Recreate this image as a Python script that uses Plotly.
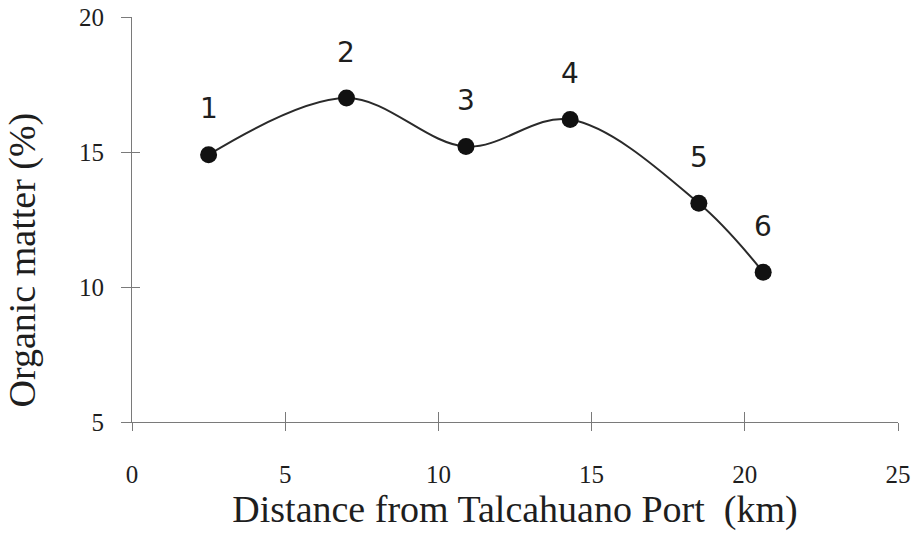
import plotly.graph_objects as go

# Sampling stations along the transect
stations = ["1", "2", "3", "4", "5", "6"]
distance_km = [2.5, 7.0, 10.9, 14.3, 18.5, 20.6]
organic_matter = [14.9, 17.0, 15.2, 16.2, 13.1, 10.55]

x_ticks = [0, 5, 10, 15, 20, 25]
y_ticks = [5, 10, 15, 20]

axis_grey = "#7a7a7a"
ink = "#1e1e1e"
serif = "Liberation Serif, Times New Roman, serif"

fig = go.Figure()

fig.add_trace(go.Scatter(
    x=distance_km,
    y=organic_matter,
    mode="lines+markers",
    line=dict(color="#2a2a2a", width=2, shape="spline", smoothing=1.0),
    marker=dict(color="#111111", size=17),
    showlegend=False,
    hoverinfo="skip",
))

# Station numbers above each point
for name, xv, yv in zip(stations, distance_km, organic_matter):
    fig.add_annotation(
        x=xv, y=yv, text=name, showarrow=False, yshift=46,
        font=dict(family="DejaVu Sans, sans-serif", size=28, color=ink),
    )

# Y-axis title, set a little below the axis midpoint
fig.add_annotation(
    xref="paper", yref="paper", x=-0.143, y=0.40,
    text="Organic matter (%)", textangle=-90, showarrow=False,
    xanchor="center", yanchor="middle",
    font=dict(family=serif, size=38, color=ink),
)

# Invisible trace on the overlay axes so inward ticks get drawn
fig.add_trace(go.Scatter(x=[None], y=[None], xaxis="x2", yaxis="y2",
                         showlegend=False, hoverinfo="skip"))

fig.update_layout(
    template="none",
    width=915, height=533,
    margin=dict(l=132, r=17, t=17, b=111),
    paper_bgcolor="white", plot_bgcolor="white",
    xaxis=dict(
        range=[0, 25], tickvals=x_ticks, showgrid=False, zeroline=False,
        automargin=False,
        showline=True, linecolor=axis_grey, linewidth=1,
        ticks="outside", ticklen=8, tickcolor=axis_grey, tickwidth=1,
        ticklabelstandoff=22,
        tickfont=dict(family=serif, size=25, color=ink),
        title=dict(text="Distance from Talcahuano Port  (km)",
                   font=dict(family=serif, size=38, color=ink), standoff=6),
    ),
    yaxis=dict(
        range=[5, 20], tickvals=y_ticks, showgrid=False, zeroline=False,
        automargin=False,
        showline=True, linecolor=axis_grey, linewidth=1,
        ticks="outside", ticklen=10, tickcolor=axis_grey, tickwidth=1,
        ticklabelstandoff=12,
        tickfont=dict(family=serif, size=25, color=ink),
    ),
    xaxis2=dict(
        range=[0, 25], tickvals=x_ticks, overlaying="x", anchor="y",
        showgrid=False, zeroline=False, showticklabels=False, automargin=False,
        ticks="inside", ticklen=10, tickcolor=axis_grey, tickwidth=1,
    ),
    yaxis2=dict(
        range=[5, 20], tickvals=y_ticks, overlaying="y", anchor="x",
        showgrid=False, zeroline=False, showticklabels=False, automargin=False,
        ticks="inside", ticklen=8, tickcolor=axis_grey, tickwidth=1,
    ),
)

fig.write_html("out.html")
